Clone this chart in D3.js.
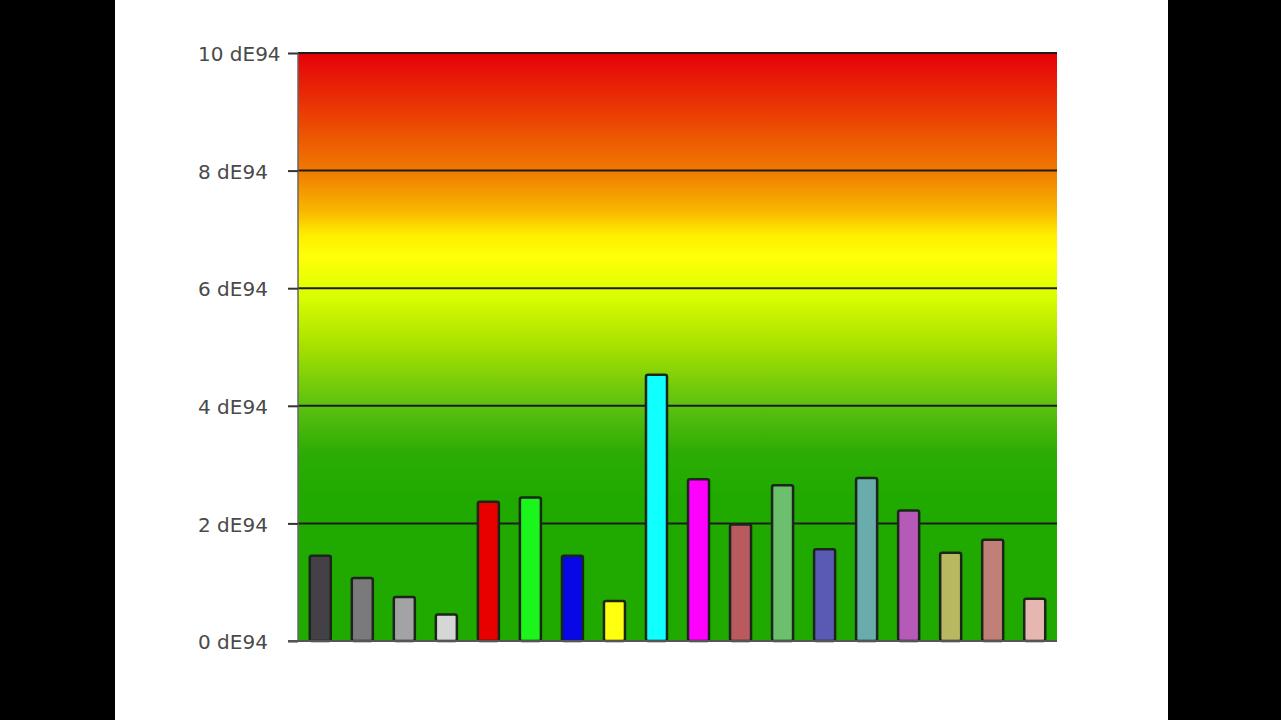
<!DOCTYPE html>
<html>
<head>
<meta charset="utf-8">
<script src="https://cdn.jsdelivr.net/npm/d3@7"></script>
<style>
  body { margin: 0; background: #000; }
  .tick text { font-family: "DejaVu Sans", sans-serif; font-size: 20px; fill: #4a4a4a; }
</style>
</head>
<body>
<script>
// Page size and plot box
var w = 1281,
    h = 720,
    plotLeft = 298, plotRight = 1057,
    plotTop = 53, plotBottom = 641,
    labelX = 198; // labels are left aligned in the reference

// Data
var samples = ['s1', 's2', 's3', 's4', 's5', 's6', 's7', 's8', 's9',
               's10', 's11', 's12', 's13', 's14', 's15', 's16', 's17', 's18'];
var deltaE = [1.45, 1.07, 0.75, 0.45, 2.37, 2.44, 1.45, 0.68, 4.53,
              2.75, 1.98, 2.65, 1.56, 2.77, 2.22, 1.50, 1.72, 0.72];
var barColors = ['#434147', '#7a7a7c', '#a3a3a5', '#d6d6d6', '#e80000', '#1cf51c',
                 '#0808e6', '#ffff10', '#10ffff', '#ff00ff', '#b85a5e', '#6cbf6c',
                 '#5a5ab4', '#6aacac', '#b65ab8', '#b8b860', '#c08078', '#e6b6b0'];
var yTicks = [0, 2, 4, 6, 8, 10];

var svg = d3.select('body')
            .append('svg')
            .attr('width', w)
            .attr('height', h)
            .style('display', 'block');

// black bars at the sides, white page between
svg.append('rect').attr('width', w).attr('height', h).attr('fill', '#000');
svg.append('rect').attr('x', 115).attr('width', 1053).attr('height', h).attr('fill', '#fff');

var xScale = d3.scaleBand()
               .domain(samples)
               .range([plotLeft, plotRight])
               .paddingInner(0.5)
               .paddingOuter(0.28);

var yScale = d3.scaleLinear()
               .domain([0, 10])
               .range([plotBottom, plotTop]);

// traffic-light gradient behind the bars
var grad = svg.append('defs').append('linearGradient')
              .attr('id', 'bg')
              .attr('x1', 0).attr('y1', 0).attr('x2', 0).attr('y2', 1);
var stops = [
  [0, '#e60008'], [0.1, '#ea3c04'], [0.2, '#f07a00'], [0.27, '#f8b800'],
  [0.31, '#ffee00'], [0.345, '#ffff08'], [0.41, '#dcff00'], [0.5, '#a6e000'],
  [0.6, '#5cc010'], [0.68, '#2cac04'], [0.75, '#20aa00'], [1, '#20aa00']
];
grad.selectAll('stop')
    .data(stops)
    .enter().append('stop')
    .attr('offset', function(d) { return d[0]; })
    .attr('stop-color', function(d) { return d[1]; });

svg.append('rect')
   .attr('x', plotLeft)
   .attr('y', plotTop)
   .attr('width', plotRight - plotLeft)
   .attr('height', plotBottom - plotTop)
   .attr('fill', 'url(#bg)');

// grid lines
svg.append('g')
   .selectAll('line')
   .data(yTicks.filter(function(d) { return d > 0; }))
   .enter().append('line')
   .attr('x1', plotLeft).attr('x2', plotRight)
   .attr('y1', function(d) { return yScale(d); })
   .attr('y2', function(d) { return yScale(d); })
   .attr('stroke', '#1c1c1c')
   .attr('stroke-width', 2);

// left edge of plot
svg.append('line')
   .attr('x1', plotLeft).attr('x2', plotLeft)
   .attr('y1', plotTop).attr('y2', plotBottom)
   .attr('stroke', '#666').attr('stroke-width', 1.5);

// bars
svg.append('g')
   .selectAll('rect')
   .data(deltaE)
   .enter().append('rect')
   .attr('x', function(d, i) { return xScale(samples[i]); })
   .attr('y', function(d) { return yScale(d); })
   .attr('width', xScale.bandwidth())
   .attr('height', function(d) { return yScale(0) - yScale(d); })
   .attr('rx', 2)
   .attr('fill', function(d, i) { return barColors[i]; })
   .attr('stroke', '#1a261a')
   .attr('stroke-width', 2.5);

// y axis
var yAxis = d3.axisLeft()
              .scale(yScale)
              .tickValues(yTicks)
              .tickSize(10)
              .tickFormat(function(d) { return d + ' dE94'; });

var gy = svg.append('g')
   .attr('transform', 'translate(' + plotLeft + ', 0)')
   .call(yAxis);
gy.select('.domain').remove();
gy.selectAll('.tick line').attr('stroke', '#333').attr('stroke-width', 2);
gy.selectAll('.tick text')
  .attr('text-anchor', 'start')
  .attr('x', labelX - plotLeft)
  .attr('dy', '0.38em');

// baseline
svg.append('line')
   .attr('x1', plotLeft - 10).attr('x2', plotRight)
   .attr('y1', plotBottom).attr('y2', plotBottom)
   .attr('stroke', '#555').attr('stroke-width', 2);
</script>
</body>
</html>
